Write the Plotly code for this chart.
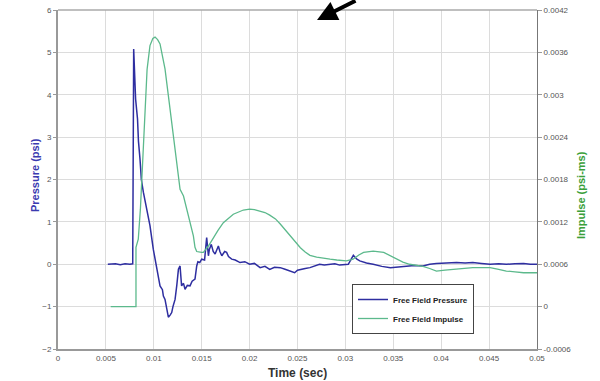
import plotly.graph_objects as go

# ---- data ----
press_t = [0.0052, 0.0060, 0.0065, 0.0070, 0.0075, 0.0078, 0.0079, 0.0081, 0.0083, 0.0084,
           0.00856, 0.0087, 0.00891, 0.0093, 0.0096, 0.00995, 0.0103, 0.0105, 0.01065, 0.0109,
           0.0110, 0.01117, 0.0114, 0.01152, 0.0117, 0.01187, 0.0120, 0.01222, 0.0124, 0.01257,
           0.01274, 0.0129, 0.0131, 0.01326, 0.0135, 0.01378, 0.0140, 0.0143, 0.01448, 0.0146,
           0.0148, 0.0150, 0.0153, 0.01552, 0.0157, 0.0158, 0.0160, 0.0162, 0.0164, 0.0166,
           0.01674, 0.0169, 0.0171, 0.0174, 0.0176, 0.0178, 0.01813, 0.0185, 0.0190, 0.0195,
           0.0200, 0.0205, 0.0211, 0.0216, 0.0221, 0.0226, 0.0232, 0.0237, 0.0242, 0.0247,
           0.0250, 0.0253, 0.0258, 0.0263, 0.0268, 0.0273, 0.0278, 0.0284, 0.0289, 0.0294,
           0.0300, 0.0303, 0.03083, 0.0312, 0.0315, 0.0322, 0.0329, 0.0338, 0.0347, 0.0355,
           0.0364, 0.0372, 0.0381, 0.0388, 0.0395, 0.0405, 0.0416, 0.0425, 0.0433, 0.0442,
           0.0451, 0.0460, 0.0468, 0.0477, 0.0486, 0.0493, 0.0500]
press_v = [0.0, 0.01, -0.01, 0.01, 0.0, 0.01, 5.08, 3.9, 3.43, 2.9,
           2.48, 2.0, 1.70, 1.2, 0.91, 0.35, -0.12, -0.35, -0.51, -0.6,
           -0.75, -0.83, -1.15, -1.25, -1.2, -1.14, -1.0, -0.83, -0.5, -0.12,
           -0.04, -0.51, -0.45, -0.59, -0.5, -0.51, -0.4, -0.35, -0.04, 0.06,
           0.04, 0.12, 0.10, 0.63, 0.2, 0.35, 0.47, 0.3, 0.24, 0.38,
           0.43, 0.3, 0.2, 0.3, 0.28, 0.18, 0.12, 0.1, 0.04, 0.06,
           0.0, 0.02, -0.08, -0.05, -0.12, -0.07, -0.08, -0.12, -0.16, -0.2,
           -0.14, -0.12, -0.1, -0.08, -0.04, 0.0, -0.02, 0.0, 0.01, -0.02,
           0.0, 0.0, 0.21, 0.12, 0.08, 0.03, 0.0, -0.05, -0.08, -0.06,
           -0.04, -0.03, -0.04, 0.0, 0.02, 0.03, 0.04, 0.03, 0.04, 0.02,
           0.0, 0.01, 0.0, 0.01, 0.02, 0.0, 0.0]

imp_t = [0.0055, 0.00814, 0.00814, 0.00838, 0.0086, 0.0088, 0.0090, 0.0093, 0.0096, 0.0099,
         0.01013, 0.0104, 0.01065, 0.0109, 0.01117, 0.01152, 0.01187, 0.01222, 0.0124, 0.01274,
         0.0131, 0.0136, 0.01413, 0.0143, 0.01448, 0.0150, 0.01517, 0.0157, 0.0162, 0.0167,
         0.01726, 0.0183, 0.01935, 0.0200, 0.0205, 0.0211, 0.0216, 0.0221, 0.0227, 0.0232,
         0.0237, 0.0242, 0.0248, 0.0253, 0.0258, 0.0263, 0.0270, 0.0277, 0.0284, 0.0291,
         0.0301, 0.0308, 0.0314, 0.0319, 0.0329, 0.0340, 0.0347, 0.0354, 0.0360, 0.0367,
         0.0374, 0.0381, 0.0388, 0.0395, 0.0404, 0.0413, 0.0423, 0.0433, 0.0442, 0.0451,
         0.0460, 0.0468, 0.0477, 0.0486, 0.0500]
imp_v = [0.0, 0.0, 0.00084, 0.000954, 0.00138, 0.00192, 0.00258, 0.00336, 0.003696, 0.003798,
         0.003816, 0.00378, 0.00372, 0.00357, 0.003366, 0.002988, 0.00261, 0.002232, 0.002088, 0.001662,
         0.001566, 0.001284, 0.001002, 0.00084, 0.00078, 0.000768, 0.000768, 0.000858, 0.000978, 0.00108,
         0.001188, 0.001308, 0.001368, 0.00138, 0.001374, 0.001356, 0.001332, 0.001296, 0.001242, 0.00117,
         0.001092, 0.001002, 0.000912, 0.000834, 0.000774, 0.000726, 0.000702, 0.000684, 0.000672, 0.00066,
         0.000648, 0.000672, 0.000732, 0.000768, 0.000786, 0.000768, 0.00072, 0.000672, 0.00063, 0.0006,
         0.000582, 0.00057, 0.00054, 0.000504, 0.000516, 0.000528, 0.00054, 0.000552, 0.000552, 0.000552,
         0.000528, 0.000504, 0.000492, 0.00048, 0.00048]

x_ticks = [0, 0.005, 0.01, 0.015, 0.02, 0.025, 0.03, 0.035, 0.04, 0.045, 0.05]
x_labels = ["0", "0.005", "0.01", "0.015", "0.02", "0.025", "0.03", "0.035", "0.04", "0.045", "0.05"]
y_ticks = [-2, -1, 0, 1, 2, 3, 4, 5, 6]
y2_ticks = [-0.0006, 0, 0.0006, 0.0012, 0.0018, 0.0024, 0.003, 0.0036, 0.0042]
y2_labels = ["-0.0006", "0", "0.0006", "0.0012", "0.0018", "0.0024", "0.003", "0.0036", "0.0042"]

BLUE = "#2e2ea0"
GREEN = "#5cb98c"
FONT = "Liberation Sans, Arial, sans-serif"

W, H = 600, 381
ML, MR, MT, MB = 58, 63, 10, 32
PW, PH = W - ML - MR, H - MT - MB

def px_x(p):  # pixel -> paper x
    return (p - ML) / PW

def px_y(p):  # pixel (from top) -> paper y
    return (H - MB - p) / PH

fig = go.Figure()
fig.add_trace(go.Scatter(x=press_t, y=press_v, mode="lines", name="<b>Free Field Pressure</b>",
                         line=dict(color=BLUE, width=1.5)))
fig.add_trace(go.Scatter(x=imp_t, y=imp_v, mode="lines", name="<b>Free Field Impulse</b>",
                         yaxis="y2", line=dict(color=GREEN, width=1.3)))

fig.update_layout(
    width=W, height=H,
    margin=dict(l=ML, r=MR, t=MT, b=MB, autoexpand=False),
    paper_bgcolor="white", plot_bgcolor="white",
    font=dict(family=FONT, size=8, color="#444"),
    showlegend=True,
    legend=dict(x=px_x(352), y=px_y(284), xanchor="left", yanchor="top",
                bgcolor="white", bordercolor="#444", borderwidth=1,
                font=dict(family=FONT, size=8, color="#222"),
                itemwidth=30, tracegroupgap=0),
    xaxis=dict(range=[0, 0.05], tickvals=x_ticks, ticktext=x_labels, automargin=False,
               showgrid=True, gridcolor="#dcdcdc", gridwidth=1,
               zeroline=False, showline=True, linecolor="#999", linewidth=2,
               ticks="", tickfont=dict(size=8, color="#555")),
    yaxis=dict(range=[-2, 6], tickvals=y_ticks, showgrid=True, gridcolor="#dcdcdc",
               gridwidth=1, zeroline=False, showline=True, linecolor="#999", linewidth=2,
               automargin=False,
               ticks="outside", ticklen=3, tickcolor="#999", tickfont=dict(size=8, color="#555")),
    yaxis2=dict(range=[-0.0006, 0.0042], tickvals=y2_ticks, ticktext=y2_labels,
                overlaying="y", side="right", showgrid=False, zeroline=False,
                showline=True, linecolor="#777", linewidth=1, automargin=False,
                ticks="outside", ticklen=4, tickcolor="#999", tickfont=dict(size=8, color="#555")),
    shapes=[dict(type="line", xref="paper", yref="paper", x0=0, x1=1, y0=1, y1=1,
                 line=dict(color="#aaa", width=1.5))],
    annotations=[
        dict(x=px_x(317), y=px_y(20), xref="paper", yref="paper", text="",
             showarrow=True, arrowhead=2, arrowsize=1, arrowwidth=4,
             arrowcolor="black", ax=40, ay=-24),
        dict(x=px_x(297), y=px_y(373), xref="paper", yref="paper", text="<b>Time (sec)</b>",
             showarrow=False, xanchor="center", yanchor="middle",
             font=dict(size=12, color="#333")),
        dict(x=px_x(27), y=px_y(175), xref="paper", yref="paper", text="<b>Pressure (psi)</b>",
             showarrow=False, textangle=-90, font=dict(size=11, color="#3a3ab0")),
        dict(x=px_x(589), y=px_y(195), xref="paper", yref="paper", text="<b>Impulse (psi-ms)</b>",
             showarrow=False, textangle=-90, font=dict(size=11, color="#3aa03a")),
    ],
)

fig.write_html("out.html", config={"displayModeBar": False},
               post_script="document.body.style.margin='0px';")
